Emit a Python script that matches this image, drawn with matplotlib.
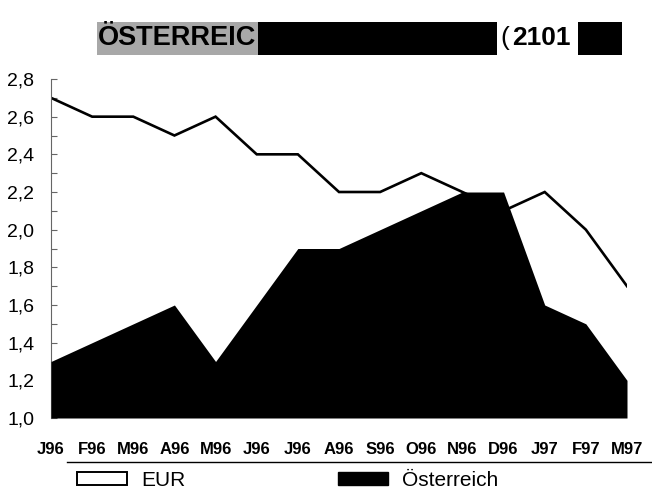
import matplotlib
matplotlib.use("Agg")
import matplotlib.pyplot as plt
from matplotlib.patches import Rectangle, Patch
from matplotlib.lines import Line2D
from matplotlib.ticker import MultipleLocator, FuncFormatter

# Monatswerte Jan 96 - Mär 97
months = ["J96", "F96", "M96", "A96", "M96", "J96", "J96", "A96",
          "S96", "O96", "N96", "D96", "J97", "F97", "M97"]
eur = [2.7, 2.6, 2.6, 2.5, 2.6, 2.4, 2.4, 2.2, 2.2, 2.3, 2.2, 2.1, 2.2, 2.0, 1.7]
oesterreich = [1.3, 1.4, 1.5, 1.6, 1.3, 1.6, 1.9, 1.9, 2.0, 2.1, 2.2, 2.2, 1.6, 1.5, 1.2]

plt.rcParams['font.family'] = ['Liberation Sans', 'DejaVu Sans']

W, H = 652, 495
fig = plt.figure(figsize=(W / 100, H / 100), dpi=100)


def px(x0, y0, x1, y1):
    # Pixelbox (von oben gemessen) -> Figurenkoordinaten
    return x0 / W, 1 - y1 / H, (x1 - x0) / W, (y1 - y0) / H


def box(x0, y0, x1, y1, color):
    l, b, w, h = px(x0, y0, x1, y1)
    fig.add_artist(Rectangle((l, b), w, h, transform=fig.transFigure,
                             facecolor=color, edgecolor='none'))


ax = fig.add_axes(px(51, 79, 627, 418))
x = list(range(len(months)))

ax.plot(x, eur, color='black', linewidth=1.9, solid_joinstyle='miter', zorder=2)
ax.fill_between(x, 1.0, oesterreich, color='black', linewidth=0, zorder=3)

ax.set_xlim(0, len(months) - 1)
ax.set_ylim(1.0, 2.8)
ax.yaxis.set_major_locator(MultipleLocator(0.2))
ax.yaxis.set_minor_locator(MultipleLocator(0.1))
ax.yaxis.set_major_formatter(FuncFormatter(lambda v, _: f"{v:.1f}".replace(".", ",")))
ax.tick_params(axis='y', which='both', direction='in', length=4, width=0.8,
               color='#666666', labelsize=14, pad=12)
ax.set_xticks(x)
ax.set_xticklabels(months, fontsize=12, fontweight='bold',
                   family=['Liberation Sans Narrow', 'Liberation Sans'])
ax.tick_params(axis='x', length=0, pad=17)

for s in ['top', 'right', 'bottom']:
    ax.spines[s].set_visible(False)
ax.spines['left'].set_color('#666666')
ax.spines['left'].set_linewidth(0.8)

# Trennlinie unter den Monatsbeschriftungen
fig.add_artist(Line2D([67 / W, 1.0], [1 - 462 / H] * 2, color='black', linewidth=1.0))

# Legende
handles = [Patch(facecolor='white', edgecolor='black', linewidth=1.4, label='EUR'),
           Patch(facecolor='black', edgecolor='black', label='Österreich')]
fig.legend(handles=handles, loc='center left', bbox_to_anchor=(77 / W, 1 - 480 / H),
           ncol=2, frameon=False, fontsize=15, handlelength=2.4, handleheight=0.58,
           handletextpad=0.7, columnspacing=7.3, borderpad=0, borderaxespad=0)

# Kopfbalken
box(97, 22, 497, 55, 'black')
box(97, 22, 258, 55, '#a8a8a8')
box(578, 22, 622, 55, 'black')
fig.text(98 / W, 1 - 38 / H, "ÖSTERREIC", fontsize=19.5, fontweight='bold',
         color='black', va='center', ha='left')
fig.text(500 / W, 1 - 38 / H, "(", fontsize=19, color='black', va='center', ha='left')
fig.text(512 / W, 1 - 38 / H, "2101", fontsize=19, fontweight='bold',
         color='black', va='center', ha='left')

fig.savefig("out.png", dpi=100)
